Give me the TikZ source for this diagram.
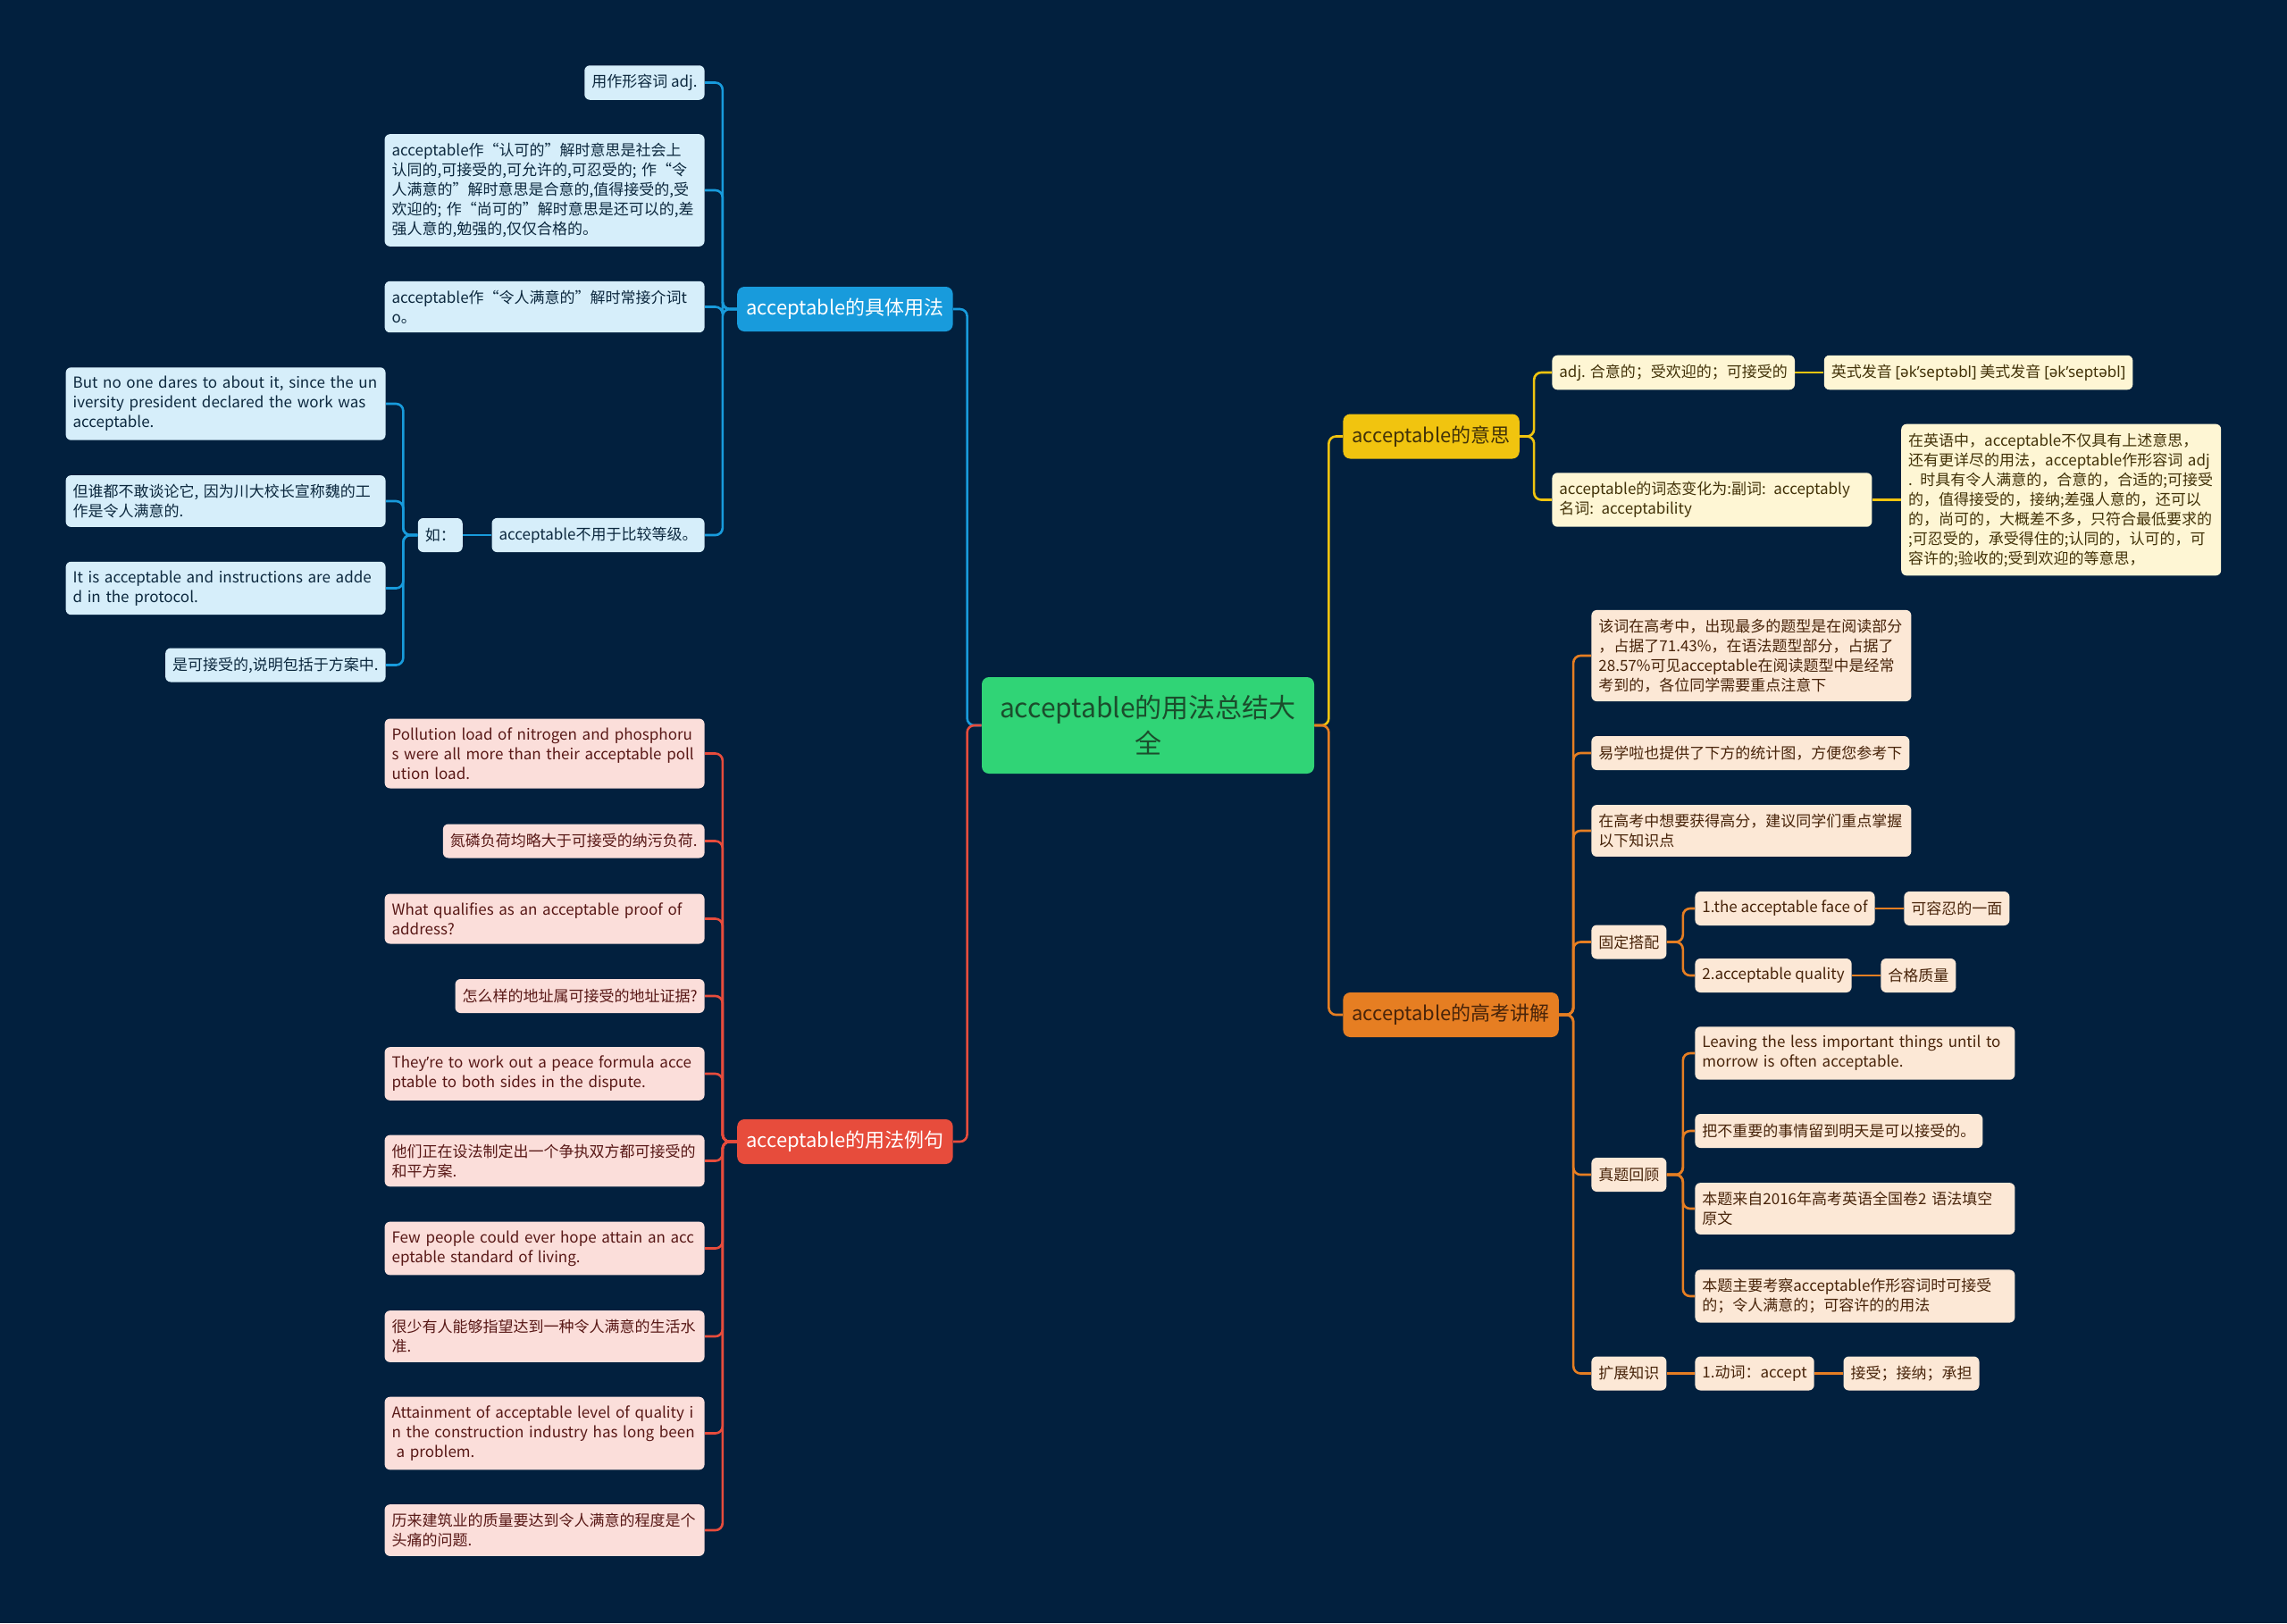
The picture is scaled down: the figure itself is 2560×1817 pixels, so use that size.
\documentclass[tikz,border=0pt]{standalone}
\usepackage{fontspec}
\setmainfont{Noto Sans CJK SC}
\newfontfamily\ipafont{Noto Sans}
\usepackage{tikz}
\usetikzlibrary{positioning}
\usepackage{xcolor}
\definecolor{bgnavy}{RGB}{2, 32, 62}
\definecolor{rootgreen}{RGB}{48, 212, 118}
\definecolor{rootink}{RGB}{27, 77, 44}
\definecolor{usageblue}{RGB}{24, 155, 220}
\definecolor{usagepale}{RGB}{214, 238, 250}
\definecolor{usageink}{RGB}{12, 40, 62}
\definecolor{sampred}{RGB}{231, 76, 60}
\definecolor{samppale}{RGB}{251, 222, 218}
\definecolor{sampink}{RGB}{88, 24, 22}
\definecolor{meanyellow}{RGB}{241, 196, 15}
\definecolor{meanpale}{RGB}{254, 246, 212}
\definecolor{meanink}{RGB}{66, 50, 8}
\definecolor{examorange}{RGB}{230, 126, 34}
\definecolor{exampale}{RGB}{252, 232, 214}
\definecolor{examink}{RGB}{72, 36, 10}

\begin{document}
\begin{tikzpicture}[
  x=0.5pt, y=-0.5pt,
  node distance=16pt,
  card/.style={rectangle, rounded corners=3pt, inner xsep=4pt, inner ysep=5pt,
               minimum height=19pt, fill=#1, font=\fontsize{8.5pt}{11pt}\selectfont},
  wide/.style={text width=171pt, align=left},
  ubox/.style={card=usagepale, text=usageink},
  sbox/.style={card=samppale, text=sampink},
  mbox/.style={card=meanpale, text=meanink},
  ebox/.style={card=exampale, text=examink},
  topic/.style={rectangle, rounded corners=4pt, fill=#1, minimum height=25pt,
                inner xsep=5pt, font=\fontsize{11pt}{14pt}\selectfont},
  link/.style={line width=1.3pt, rounded corners=4pt, draw=#1}
]
\fill[bgnavy] (0,0) rectangle (2560,1817);
\useasboundingbox (0,0) rectangle (2560,1817);

\node[rectangle, rounded corners=4pt, fill=rootgreen, text=rootink, minimum width=186pt,
      minimum height=54pt, text width=176pt, align=center,
      font=\fontsize{15pt}{20pt}\selectfont] (root) at (1285,812) {acceptable的用法总结大\\全};

\node[topic=usageblue, text=white, anchor=east] (usage) at (1067,346) {acceptable的具体用法};
\node[topic=sampred, text=white, anchor=east] (samples) at (1067,1278) {acceptable的用法例句};
\node[topic=meanyellow, text=meanink, anchor=west] (meaning) at (1503,488.5) {acceptable的意思};
\node[topic=examorange, text=examink, anchor=west] (exam) at (1503,1136) {acceptable的高考讲解};

\node[ubox, anchor=east] (adjuse) at (789,92.5) {用作形容词 adj.};
\node[ubox, wide, anchor=east] (senses) at (789,213) {acceptable作“认可的”解时意思是社会上\\认同的,可接受的,可允许的,可忍受的; 作“令\\人满意的”解时意思是合意的,值得接受的,受\\欢迎的; 作“尚可的”解时意思是还可以的,差\\强人意的,勉强的,仅仅合格的。};
\node[ubox, wide, anchor=east] (prep) at (789,343.5) {acceptable作“令人满意的”解时常接介词t\\o。};
\node[ubox, anchor=east] (nocomp) at (789,599) {acceptable不用于比较等级。};
\node[ubox, left=of nocomp] (eg) {如：};
\node[ubox, wide, anchor=east] (eg1) at (432,452) {But no one dares to about it, since the un\\iversity president declared the work was\\acceptable.};
\node[ubox, wide, anchor=east] (eg2) at (432,561) {但谁都不敢谈论它, 因为川大校长宣称魏的工\\作是令人满意的.};
\node[ubox, wide, anchor=east] (eg3) at (432,658.5) {It is acceptable and instructions are adde\\d in the protocol.};
\node[ubox, anchor=east] (eg4) at (432,744.5) {是可接受的,说明包括于方案中.};

\node[sbox, wide, anchor=east] (s1) at (789,843.5) {Pollution load of nitrogen and phosphoru\\s were all more than their acceptable poll\\ution load.};
\node[sbox, anchor=east] (s2) at (789,941.5) {氮磷负荷均略大于可接受的纳污负荷.};
\node[sbox, wide, anchor=east] (s3) at (789,1028.5) {What qualifies as an acceptable proof of\\address?};
\node[sbox, anchor=east] (s4) at (789,1115) {怎么样的地址属可接受的地址证据?};
\node[sbox, wide, anchor=east] (s5) at (789,1202) {They{\ipafont ’}re to work out a peace formula acce\\ptable to both sides in the dispute.};
\node[sbox, wide, anchor=east] (s6) at (789,1299.5) {他们正在设法制定出一个争执双方都可接受的\\和平方案.};
\node[sbox, wide, anchor=east] (s7) at (789,1397.5) {Few people could ever hope attain an acc\\eptable standard of living.};
\node[sbox, wide, anchor=east] (s8) at (789,1496) {很少有人能够指望达到一种令人满意的生活水\\准.};
\node[sbox, wide, anchor=east] (s9) at (789,1604.5) {Attainment of acceptable level of quality i\\n the construction industry has long been\\\hspace*{0.3em}a problem.};
\node[sbox, wide, anchor=east] (s10) at (789,1713) {历来建筑业的质量要达到令人满意的程度是个\\头痛的问题.};

\node[mbox, anchor=west] (adjmean) at (1737,417) {adj. 合意的；受欢迎的；可接受的};
\node[mbox, right=of adjmean] (sound) {英式发音 {\ipafont[ək’septəbl]} 美式发音 {\ipafont[ək’septəbl]}};
\node[mbox, wide, anchor=west] (forms) at (1737,559.5) {acceptable的词态变化为:副词: acceptably\\名词: acceptability};
\node[mbox, wide, right=of forms] (usagenote) {在英语中，acceptable不仅具有上述意思，\\还有更详尽的用法，acceptable作形容词 adj\\. 时具有令人满意的，合意的，合适的;可接受\\的，值得接受的，接纳;差强人意的，还可以\\的，尚可的，大概差不多，只符合最低要求的\\;可忍受的，承受得住的;认同的，认可的，可\\容许的;验收的;受到欢迎的等意思，};

\node[ebox, wide, anchor=west] (stats) at (1781,734) {该词在高考中，出现最多的题型是在阅读部分\\，占据了71.43\%，在语法题型部分，占据了\\28.57\%可见acceptable在阅读题型中是经常\\考到的，各位同学需要重点注意下};
\node[ebox, anchor=west] (chart) at (1781,843) {易学啦也提供了下方的统计图，方便您参考下};
\node[ebox, wide, anchor=west] (advice) at (1781,930) {在高考中想要获得高分，建议同学们重点掌握\\以下知识点};
\node[ebox, anchor=west] (colloc) at (1781,1054.5) {固定搭配};
\node[ebox, anchor=west] (face) at (1897,1017) {1.the acceptable face of};
\node[ebox, right=of face] (facezh) {可容忍的一面};
\node[ebox, anchor=west] (quality) at (1897,1092) {2.acceptable quality};
\node[ebox, right=of quality] (qualityzh) {合格质量};
\node[ebox, anchor=west] (review) at (1781,1315) {真题回顾};
\node[ebox, wide, anchor=west] (q1) at (1897,1179) {Leaving the less important things until to\\morrow is often acceptable.};
\node[ebox, anchor=west] (q2) at (1897,1266) {把不重要的事情留到明天是可以接受的。};
\node[ebox, wide, anchor=west] (q3) at (1897,1353) {本题来自2016年高考英语全国卷2 语法填空\\原文};
\node[ebox, wide, anchor=west] (q4) at (1897,1451) {本题主要考察acceptable作形容词时可接受\\的；令人满意的；可容许的的用法};
\node[ebox, anchor=west] (extend) at (1781,1537.5) {扩展知识};
\node[ebox, anchor=west] (verb) at (1897,1537.5) {1.动词：accept};
\node[ebox, right=of verb] (verbzh) {接受；接纳；承担};

\draw[link=usageblue] (root.west) -- ++(-16,0) |- (usage.east);
\draw[link=sampred] (root.west) -- ++(-16,0) |- (samples.east);
\draw[link=meanyellow] (root.east) -- ++(16,0) |- (meaning.west);
\draw[link=examorange] (root.east) -- ++(16,0) |- (exam.west);

\foreach \leaf in {adjuse, senses, prep, nocomp}
  \draw[link=usageblue] (usage.west) -- ++(-16,0) |- (\leaf.east);
\draw[link=usageblue] (nocomp.west) -- (eg.east);
\foreach \leaf in {eg1, eg2, eg3, eg4}
  \draw[link=usageblue] (eg.west) -- ++(-16,0) |- (\leaf.east);

\foreach \leaf in {s1, s2, s3, s4, s5, s6, s7, s8, s9, s10}
  \draw[link=sampred] (samples.west) -- ++(-16,0) |- (\leaf.east);

\foreach \leaf in {adjmean, forms}
  \draw[link=meanyellow] (meaning.east) -- ++(16,0) |- (\leaf.west);
\draw[link=meanyellow] (adjmean) -- (sound);
\draw[link=meanyellow] (forms) -- (usagenote);

\foreach \leaf in {stats, chart, advice, colloc, review, extend}
  \draw[link=examorange] (exam.east) -- ++(16,0) |- (\leaf.west);
\foreach \leaf in {face, quality}
  \draw[link=examorange] (colloc.east) -- ++(18,0) |- (\leaf.west);
\foreach \leaf in {q1, q2, q3, q4}
  \draw[link=examorange] (review.east) -- ++(18,0) |- (\leaf.west);
\draw[link=examorange] (extend) -- (verb);
\draw[link=examorange] (face) -- (facezh);
\draw[link=examorange] (quality) -- (qualityzh);
\draw[link=examorange] (verb) -- (verbzh);
\end{tikzpicture}
\end{document}
